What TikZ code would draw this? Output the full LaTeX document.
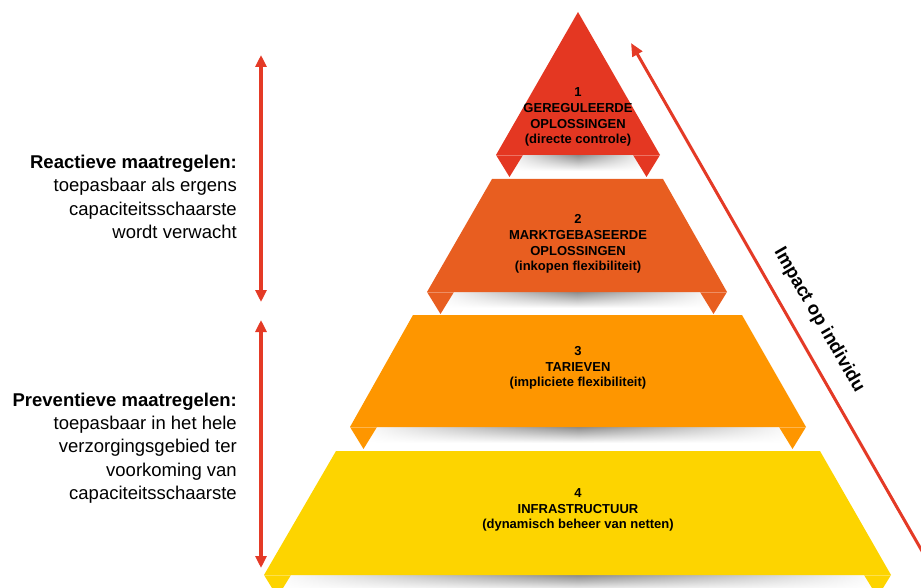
\documentclass[tikz,border=0pt]{standalone}
\usepackage{fontspec}
\setmainfont{Liberation Sans}
\usetikzlibrary{arrows.meta,fadings}

\definecolor{lvlone}{HTML}{E43722}
\definecolor{lvltwo}{HTML}{E85E20}
\definecolor{lvlthree}{HTML}{FE9600}
\definecolor{lvlfour}{HTML}{FDD400}
\definecolor{arrowred}{HTML}{E43A26}

\tikzfading[name=sidefade, left color=transparent!100, right color=transparent!100, middle color=transparent!0]

\begin{document}
\begin{tikzpicture}[x=1pt,y=-1pt,
    lvltext/.style={align=center,font=\fontsize{13}{15.8}\selectfont\bfseries},
    sidetext/.style={align=right,anchor=east,inner sep=0pt,font=\fontsize{18.5}{23.3}\selectfont},
    sidearrow/.style={draw=arrowred,line width=3.5pt,{Triangle[width=11pt,length=12pt]}-{Triangle[width=11pt,length=12pt]}},
    impactarrow/.style={draw=arrowred,line width=3pt,-{Triangle[width=11pt,length=13pt]}}]
  \useasboundingbox (0,0) rectangle (921,588);

  % the four layers, from top to bottom
  \foreach \c/\ty/\by/\tl/\tr/\bl/\br in {lvlone/12/155/578/578/496/660,
      lvltwo/179/292/492/663/427/727,
      lvlthree/315/427/413/742/350/806,
      lvlfour/451/575/336/820/264/891} {
    \shade[top color=black!45, bottom color=white, path fading=sidefade] (\bl+10,\by) rectangle (\br-10,\by+16);
    \fill[\c] (\tl,\ty) -- (\tr,\ty) -- (\br,\by) -- (\bl,\by) -- cycle;
    \fill[\c] (\bl,\by) -- (\bl+27,\by) -- (\bl+13.5,\by+22) -- cycle;
    \fill[\c] (\br,\by) -- (\br-27,\by) -- (\br-13.5,\by+22) -- cycle;
    \draw[white,opacity=0.3,line width=0.6pt] (\bl,\by) -- (\bl+27,\by) (\br-27,\by) -- (\br,\by);
  }

  \node[lvltext] (lvl1) at (578,117) {1\\GEREGULEERDE\\OPLOSSINGEN\\(directe controle)};
  \node[lvltext] (lvl2) at (578,244) {2\\MARKTGEBASEERDE\\OPLOSSINGEN\\(inkopen flexibiliteit)};
  \node[lvltext] (lvl3) at (578,368) {3\\TARIEVEN\\(impliciete flexibiliteit)};
  \node[lvltext] (lvl4) at (578,510) {4\\INFRASTRUCTUUR\\(dynamisch beheer van netten)};

  % left side
  \node[sidetext] (reactief) at (237,197) {\textbf{Reactieve maatregelen:}\\toepasbaar als ergens\\capaciteitsschaarste\\wordt verwacht};
  \node[sidetext] (preventief) at (237,448) {\textbf{Preventieve maatregelen:}\\toepasbaar in het hele\\verzorgingsgebied ter\\voorkoming van\\capaciteitsschaarste};

  \coordinate (reTop) at (261,55);
  \coordinate (reBot) at (261,302);
  \coordinate (prTop) at (261,320);
  \coordinate (prBot) at (261,568);
  \draw[sidearrow] (reTop) -- (reBot);
  \draw[sidearrow] (prTop) -- (prBot);

  % right side
  \coordinate (impLow) at (926,558);
  \coordinate (impHigh) at (631,43);
  \draw[impactarrow] (impLow) -- (impHigh);
  \node[font=\fontsize{18.5}{22}\selectfont\bfseries,rotate=-60] (impact) at (819,320) {Impact op individu};
\end{tikzpicture}
\end{document}
